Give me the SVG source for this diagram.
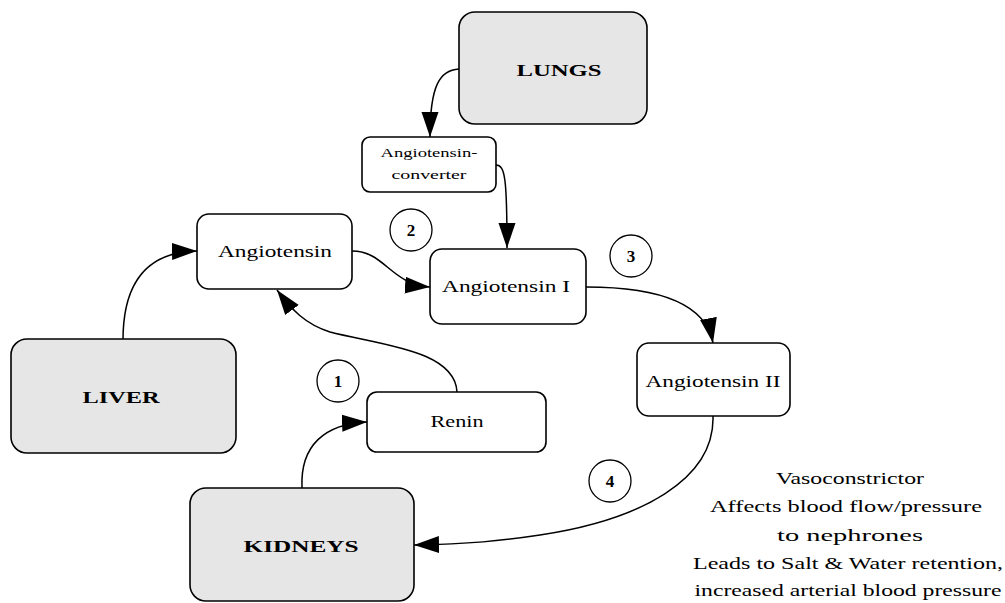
<svg xmlns="http://www.w3.org/2000/svg" width="1005" height="603" viewBox="0 0 1005 603">
<style>
.box{fill:#ffffff;stroke:#000;stroke-width:1.6}
.organ{fill:#e6e6e6;stroke:#000;stroke-width:1.6}
.lbl{font-family:"Liberation Serif",serif;font-size:16px;fill:#000;text-anchor:middle}
.small{font-family:"Liberation Serif",serif;font-size:12px;fill:#000;text-anchor:middle}
.big{font-family:"Liberation Serif",serif;font-size:17px;font-weight:bold;fill:#000;text-anchor:middle}
.num{font-family:"Liberation Serif",serif;font-size:17px;font-weight:bold;fill:#000;text-anchor:middle}
.circ{fill:#fff;stroke:#000;stroke-width:1.3}
.edge{fill:none;stroke:#000;stroke-width:1.5}
.note{font-family:"Liberation Serif",serif;font-size:17px;fill:#000;text-anchor:middle}
</style>
<defs>
<marker id="arr" markerUnits="userSpaceOnUse" markerWidth="26" markerHeight="20" viewBox="0 0 26 20" refX="25" refY="10" orient="auto">
<path d="M0,1.5 L25,10 L0,18.5 z" fill="#000"/>
</marker>
</defs>
<rect width="1005" height="603" fill="#fff"/>
<g id="connectors">
<path class="edge" d="M459,69 C440,70 430,85 430,137" marker-end="url(#arr)"/>
<path class="edge" d="M496,165 C505,165 507,178 507,248" marker-end="url(#arr)"/>
<path class="edge" d="M123,340 C123,285 145,252 197,251" marker-end="url(#arr)"/>
<path class="edge" d="M352,251 C385,251 390,284 430,287" marker-end="url(#arr)"/>
<path class="edge" d="M586,287 C650,287 705,300 713,343" marker-end="url(#arr)"/>
<path class="edge" d="M457,392 C455,350 380,345 330,332 C305,324 292,310 277,290" marker-end="url(#arr)"/>
<path class="edge" d="M302,488 C300,445 325,424 367,422" marker-end="url(#arr)"/>
<path class="edge" d="M713,416 C715,480 640,520 540,535 C500,541 470,544 414,545" marker-end="url(#arr)"/>
</g>
<g id="lungs">
<rect class="organ" x="459" y="12" width="188" height="112" rx="16"/>
<text class="big" x="559" y="76" textLength="85" lengthAdjust="spacingAndGlyphs">LUNGS</text>
</g>
<g id="converter">
<rect class="box" x="362" y="137" width="134" height="55" rx="8"/>
<text class="small" x="429" y="157" textLength="97" lengthAdjust="spacingAndGlyphs">Angiotensin-</text>
<text class="small" x="429" y="179" textLength="75" lengthAdjust="spacingAndGlyphs">converter</text>
</g>
<g id="angiotensin">
<rect class="box" x="197" y="214" width="155" height="75" rx="12"/>
<text class="lbl" x="275" y="257" textLength="114" lengthAdjust="spacingAndGlyphs">Angiotensin</text>
</g>
<g id="angiotensin1">
<rect class="box" x="430" y="249" width="156" height="75" rx="12"/>
<text class="lbl" x="506" y="292" textLength="128" lengthAdjust="spacingAndGlyphs">Angiotensin I</text>
</g>
<g id="angiotensin2">
<rect class="box" x="637" y="343" width="153" height="73" rx="12"/>
<text class="lbl" x="713" y="387" textLength="135" lengthAdjust="spacingAndGlyphs">Angiotensin II</text>
</g>
<g id="renin">
<rect class="box" x="367" y="392" width="179" height="60" rx="10"/>
<text class="lbl" x="457" y="427" textLength="53" lengthAdjust="spacingAndGlyphs">Renin</text>
</g>
<g id="liver">
<rect class="organ" x="11" y="339" width="225" height="114" rx="16"/>
<text class="big" x="121" y="403" textLength="77" lengthAdjust="spacingAndGlyphs">LIVER</text>
</g>
<g id="kidneys">
<rect class="organ" x="190" y="488" width="224" height="113" rx="16"/>
<text class="big" x="301" y="552" textLength="115" lengthAdjust="spacingAndGlyphs">KIDNEYS</text>
</g>
<g id="step1">
<circle class="circ" cx="338" cy="381" r="21"/>
<text class="num" x="338" y="387">1</text>
</g>
<g id="step2">
<circle class="circ" cx="411" cy="230" r="21"/>
<text class="num" x="411" y="236">2</text>
</g>
<g id="step3">
<circle class="circ" cx="631" cy="256" r="21"/>
<text class="num" x="631" y="262">3</text>
</g>
<g id="step4">
<circle class="circ" cx="610" cy="481" r="21"/>
<text class="num" x="610" y="487">4</text>
</g>
<g id="note">
<text class="note" x="850" y="484" textLength="148" lengthAdjust="spacingAndGlyphs">Vasoconstrictor</text>
<text class="note" x="846" y="512" textLength="272" lengthAdjust="spacingAndGlyphs">Affects blood flow/pressure</text>
<text class="note" x="850" y="541" textLength="146" lengthAdjust="spacingAndGlyphs">to nephrones</text>
<text class="note" x="848" y="569" textLength="310" lengthAdjust="spacingAndGlyphs">Leads to Salt &amp; Water retention,</text>
<text class="note" x="848" y="596" textLength="307" lengthAdjust="spacingAndGlyphs">increased arterial blood pressure</text>
</g>
</svg>
